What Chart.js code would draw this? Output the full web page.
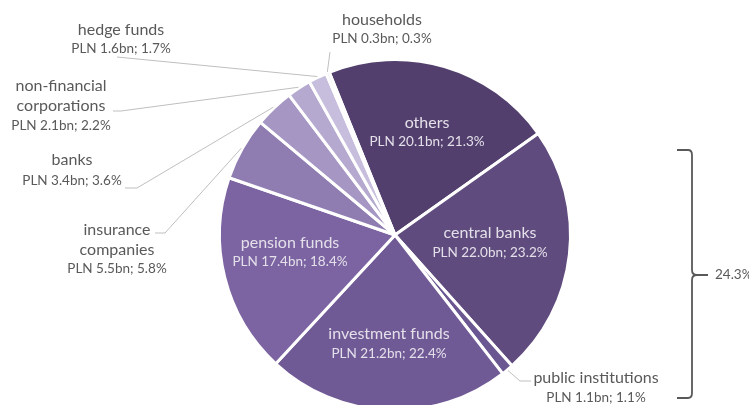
<!DOCTYPE html>
<html><head><meta charset="utf-8">
<script src="https://cdn.jsdelivr.net/npm/chart.js@4.4.1/dist/chart.umd.min.js"></script>
<style>
html,body{margin:0;padding:0;background:#fff;overflow:hidden;width:749px;height:405px}
#wrap{position:absolute;left:0;top:0;width:749px;height:470px}
</style>
</head><body><div id="wrap"><canvas id="c" width="749" height="470"></canvas></div>
<script>
// ---- data ----
const categories = ['others','central banks','public institutions','investment funds','pension funds','insurance companies','banks','non-financial corporations','hedge funds','households'];
const amountsBn = [20.1, 22.0, 1.1, 21.2, 17.4, 5.5, 3.4, 2.1, 1.6, 0.3];
const sharesPct = [21.3, 23.2, 1.1, 22.4, 18.4, 5.8, 3.6, 2.2, 1.7, 0.3];
const bracketGroup = ['central banks','public institutions'];

// ---- styles / layout ----
const palette = ['#523f6d','#5f4b7e','#6a5690','#705a96','#7c64a2','#8f7db2','#a696c3','#b5a9cf','#c7bddc','#d8d1e7'];
const labelLayout = {
  'others':                     {x:427, ys:[123,142], lines:['others'], inside:true},
  'central banks':              {x:490, ys:[233,253], lines:['central banks'], inside:true},
  'public institutions':        {x:596, ys:[378,398], lines:['public institutions'], leader:[[531,381],[520,381]]},
  'investment funds':           {x:389, ys:[334,354], lines:['investment funds'], inside:true},
  'pension funds':              {x:290, ys:[243,262], lines:['pension funds'], inside:true},
  'insurance companies':        {x:117, ys:[230,250,269], lines:['insurance','companies'], leader:[[155,233],[165,233]]},
  'banks':                      {x:72,  ys:[160,181], lines:['banks'], leader:[[125,188],[137,188]]},
  'non-financial corporations': {x:61,  ys:[86,106,126], lines:['non-financial','corporations'], leader:[[113,111],[121,111]]},
  'hedge funds':                {x:121, ys:[30,49], lines:['hedge funds'], leader:[[117,57]]},
  'households':                 {x:382, ys:[20,39], lines:['households'], leader:[[330,52]]}
};
const FONT = 'Lato, "Open Sans", sans-serif';

const labelPlugin = {
  id: 'labels',
  afterDraw(chart) {
    const ctx = chart.ctx;
    const meta = chart.getDatasetMeta(0);
    ctx.save();
    ctx.textAlign = 'center';
    ctx.textBaseline = 'middle';
    meta.data.forEach((arc, i) => {
      const name = categories[i];
      const L = labelLayout[name];
      const p = arc.getProps(['x','y','startAngle','endAngle','outerRadius'], true);
      const mid = (p.startAngle + p.endAngle) / 2;
      const val = 'PLN ' + amountsBn[i].toFixed(1) + 'bn; ' + sharesPct[i].toFixed(1) + '%';
      if (L.leader) {
        const r = p.outerRadius + 1;
        const ax = p.x + r * Math.cos(mid), ay = p.y + r * Math.sin(mid);
        ctx.strokeStyle = '#bfbfbf';
        ctx.lineWidth = 1;
        ctx.beginPath();
        ctx.moveTo(L.leader[0][0], L.leader[0][1]);
        for (let k = 1; k < L.leader.length; k++) ctx.lineTo(L.leader[k][0], L.leader[k][1]);
        ctx.lineTo(ax, ay);
        ctx.stroke();
      }
      ctx.fillStyle = L.inside ? '#e4e0ea' : '#595959';
      ctx.font = '16px ' + FONT;
      L.lines.forEach((t, k) => ctx.fillText(t, L.x, L.ys[k]));
      ctx.font = '13.5px ' + FONT;
      ctx.fillText(val, L.x, L.ys[L.ys.length - 1]);
    });
    // bracket
    const sum = bracketGroup.reduce((s, n) => s + sharesPct[categories.indexOf(n)], 0);
    ctx.strokeStyle = '#595959';
    ctx.lineWidth = 1.8;
    ctx.beginPath();
    ctx.moveTo(677, 150);
    ctx.lineTo(688, 150);
    ctx.quadraticCurveTo(692, 150, 692, 155);
    ctx.lineTo(692, 270);
    ctx.quadraticCurveTo(692, 275, 697, 275);
    ctx.moveTo(692, 280);
    ctx.quadraticCurveTo(692, 275, 697, 275);
    ctx.lineTo(708, 275);
    ctx.moveTo(692, 280);
    ctx.lineTo(692, 393);
    ctx.quadraticCurveTo(692, 398, 688, 398);
    ctx.lineTo(677, 398);
    ctx.stroke();
    ctx.fillStyle = '#595959';
    ctx.textAlign = 'left';
    ctx.font = '13.5px ' + FONT;
    ctx.fillText(sum.toFixed(1) + '%', 715, 275);
    ctx.restore();
  }
};

new Chart(document.getElementById('c'), {
  type: 'pie',
  data: {
    labels: categories,
    datasets: [{
      data: sharesPct,
      backgroundColor: palette,
      borderColor: '#ffffff',
      borderWidth: 3
    }]
  },
  options: {
    responsive: false,
    animation: false,
    devicePixelRatio: 1,
    rotation: -22,
    layout: { padding: { top: 58, bottom: 58, left: 218, right: 177 } },
    plugins: { legend: { display: false }, tooltip: { enabled: false } }
  },
  plugins: [labelPlugin]
});
</script>
</body></html>
